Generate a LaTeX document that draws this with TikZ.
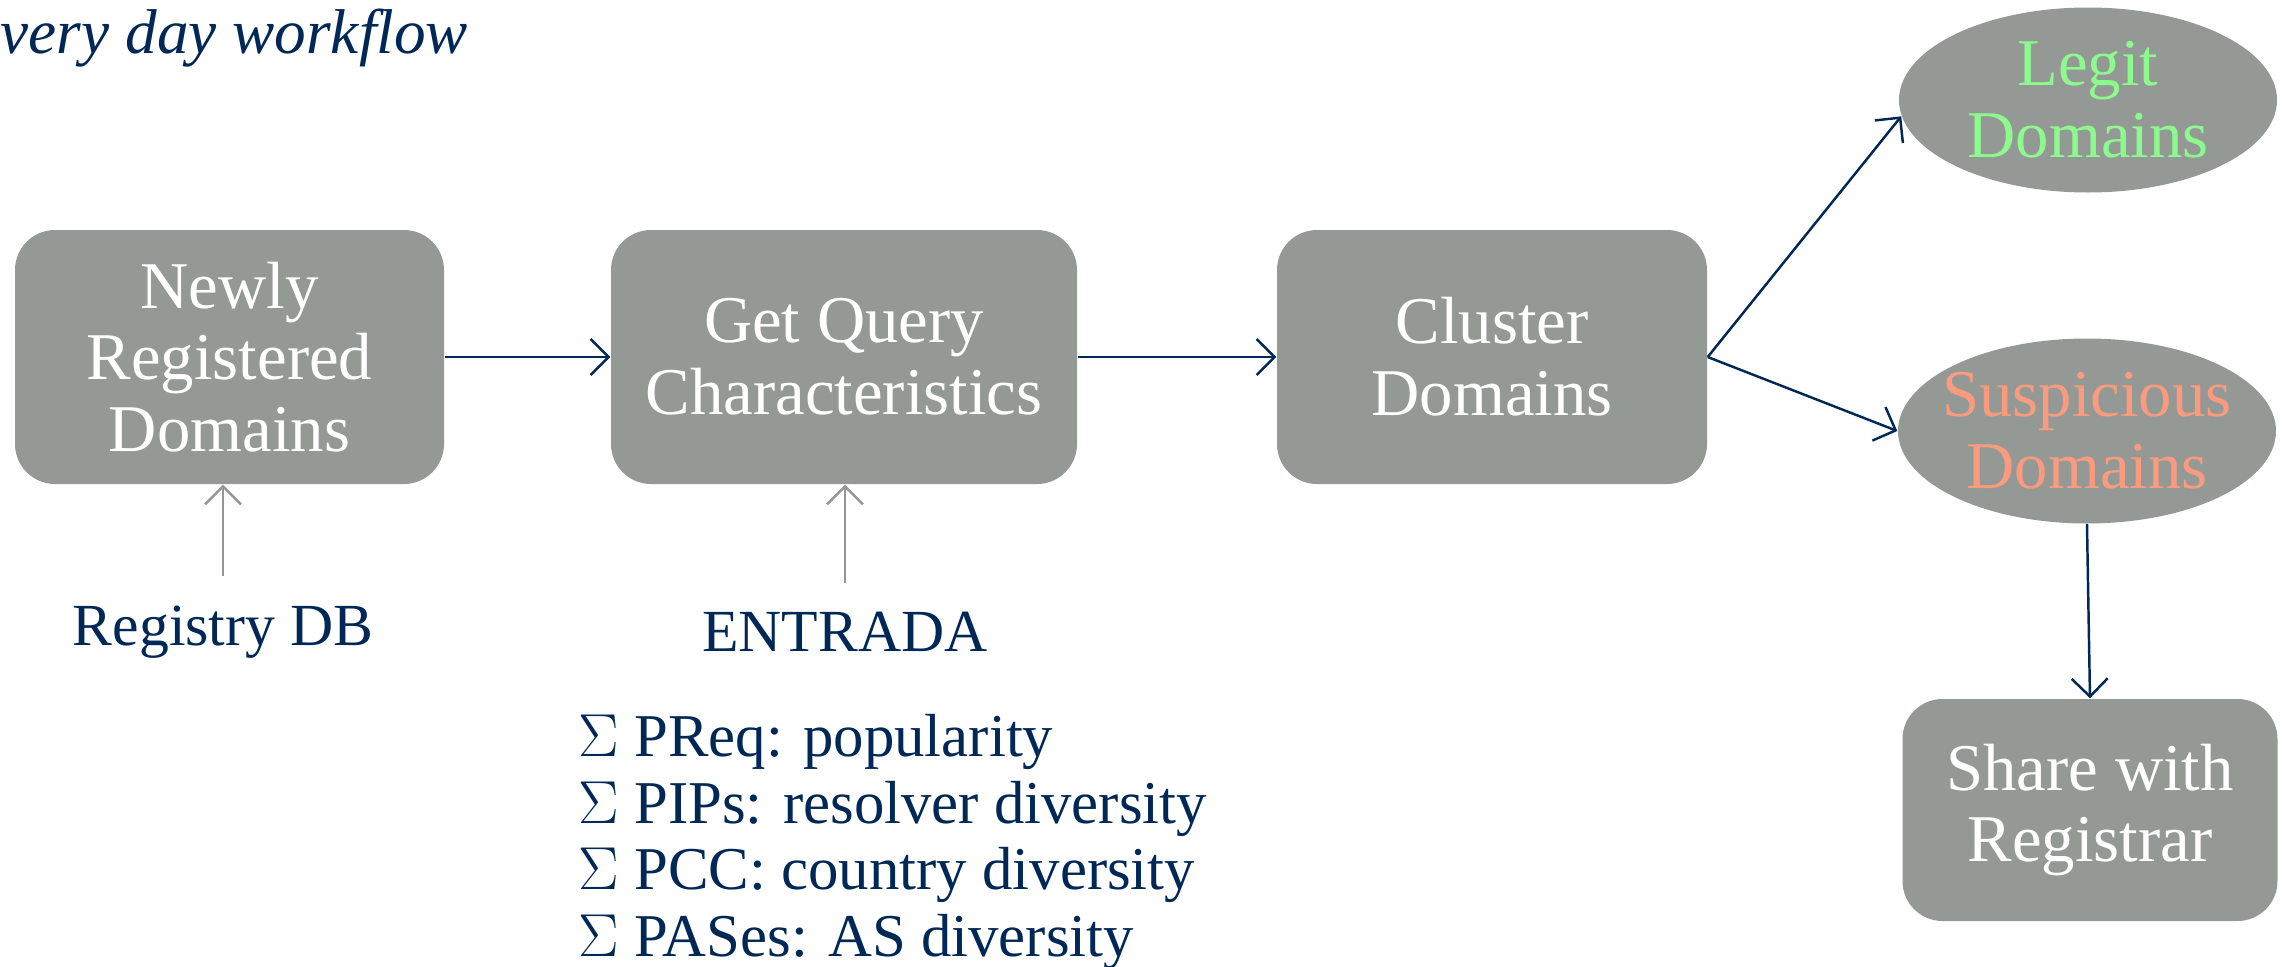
\documentclass[tikz,border=0pt]{standalone}
\usepackage{fontspec}
\setmainfont{Liberation Serif}
\usetikzlibrary{arrows, shapes}
\usetikzlibrary{arrows.meta}
\definecolor{boxgray}{RGB}{148,153,150}
\definecolor{navy}{RGB}{0,40,86}
\definecolor{legitgreen}{RGB}{140,250,140}
\definecolor{suspsalmon}{RGB}{250,155,125}
\definecolor{feedgray}{RGB}{150,150,150}

\begin{document}
\begin{tikzpicture}[
  stage/.style={rectangle, rounded corners=4mm, fill=boxgray, text=white, align=center, inner sep=0pt, font=\fontsize{19}{20.4}\selectfont},
  outcome/.style={ellipse, fill=boxgray, align=center, inner xsep=-5mm, inner ysep=-1.5mm, minimum width=3.78cm, minimum height=1.85cm, font=\fontsize{19}{20.4}\selectfont},
  flow/.style={navy, line width=0.7pt, -{Straight Barb[length=1.8mm,width=3.6mm]}},
  feed/.style={feedgray, line width=0.7pt, -{Straight Barb[length=1.8mm,width=3.6mm]}},
  source/.style={text=navy, font=\fontsize{17}{20}\selectfont}
]
\useasboundingbox (0,0) rectangle (22.85,-9.67);

\node [anchor=base west, inner sep=0pt, text=navy, font=\fontsize{18}{20}\selectfont\itshape] (title) at (0,-0.53) {very day workflow};

% pipeline
\node [stage, minimum width=4.29cm, minimum height=2.54cm] (nrd) at (2.295,-3.57) {Newly\\Registered\\Domains};
\node [stage, minimum width=4.66cm, minimum height=2.54cm] (gqc) at (8.44,-3.57) {Get Query\\Characteristics};
\node [stage, minimum width=4.30cm, minimum height=2.54cm] (cd) at (14.92,-3.57) {Cluster\\Domains};

\node [outcome, text=legitgreen] (legit) at (20.88,-1.00) {Legit\\Domains};
\node [outcome, text=suspsalmon] (susp) at (20.87,-4.31) {Suspicious\\Domains};
\node [stage, minimum width=3.75cm, minimum height=2.22cm] (share) at (20.90,-8.10) {Share with\\Registrar};

% inputs
\node [source] (regdb) at (2.23,-6.32) {Registry DB};
\node [source] (entrada) at (8.45,-6.32) {ENTRADA};
\node [source, anchor=west, align=left, inner sep=0pt, font=\fontsize{17.3}{19}\selectfont] (feat) at (5.78,-8.42)
  {$\Sigma$ PReq: popularity\\$\Sigma$ PIPs: resolver diversity\\$\Sigma$ PCC: country diversity\\$\Sigma$ PASes: AS diversity};

\path [flow] (nrd.east) edge (gqc.west);
\path [flow] (gqc.east) edge (cd.west);
\path [flow] (cd.east) edge (legit.185);
\path [flow] (cd.east) edge (susp.west);
\path [flow] (susp.south) edge (share.north);

\path [feed] ([yshift=1.7mm]regdb.north) edge (regdb.north |- nrd.south);
\path [feed] ([yshift=1.7mm]entrada.north) edge (entrada.north |- gqc.south);
\end{tikzpicture}
\end{document}
